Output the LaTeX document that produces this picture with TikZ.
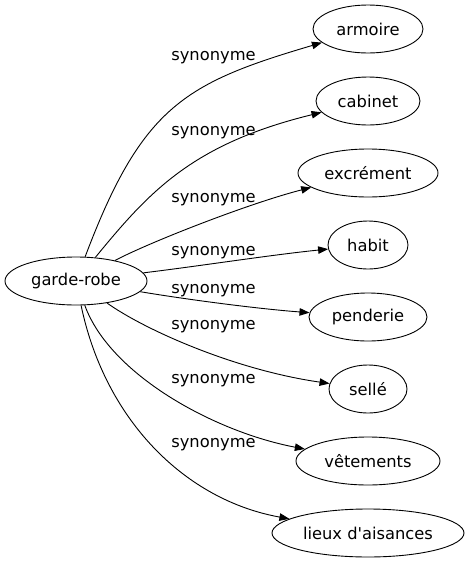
\documentclass[tikz,border=0pt]{standalone}
\usepackage{fontspec}
\setmainfont{DejaVu Sans}[Ligatures=TeXOff]
\usetikzlibrary{arrows.meta,shapes.geometric}
\tikzset{
  word/.style={draw, ellipse, line width=0.9pt, inner sep=0pt, minimum height=48pt, font=\fontsize{16.3}{19}\selectfont},
  rel/.style={line width=0.9pt, -{Triangle[length=10pt,width=7.5pt]}},
  lbl/.style={anchor=base, inner sep=0pt, font=\fontsize{16.3}{19}\selectfont}
}
\begin{document}
\begin{tikzpicture}[x=1pt,y=-1pt]
\useasboundingbox (0,0) rectangle (471,563);
\node[word, minimum width=142pt] (gr) at (76,281) {garde-robe};
\node[word, minimum width=110pt] (n1) at (368,29) {armoire};
\node[word, minimum width=104pt] (n2) at (368,101) {cabinet};
\node[word, minimum width=140pt] (n3) at (368,173) {excrément};
\node[word, minimum width=80pt] (n4) at (368,245) {habit};
\node[word, minimum width=118pt] (n5) at (368,317) {penderie};
\node[word, minimum width=78pt] (n6) at (368,389) {sellé};
\node[word, minimum width=144pt] (n7) at (368,461) {vêtements};
\node[word, minimum width=192pt] (n8) at (368,533) {lieux d'aisances};
\draw[rel] (gr) .. controls (142,106) and (185,83) .. (n1);
\draw[rel] (gr) .. controls (149,192) and (192,144) .. (n2);
\draw[rel] (gr) .. controls (150,242) and (250,203) .. (n3);
\draw[rel] (gr) .. controls (200,266) and (270,255) .. (n4);
\draw[rel] (gr) .. controls (190,300) and (260,309) .. (n5);
\draw[rel] (gr) .. controls (145,330) and (235,370) .. (n6);
\draw[rel] (gr) .. controls (110,375) and (215,432) .. (n7);
\draw[rel] (gr) .. controls (105,420) and (185,500) .. (n8);
\node[lbl] (l1) at (213.5,60) {synonyme};
\node[lbl] (l2) at (213.5,135) {synonyme};
\node[lbl] (l3) at (213.5,202) {synonyme};
\node[lbl] (l4) at (213.5,255) {synonyme};
\node[lbl] (l5) at (213.5,293) {synonyme};
\node[lbl] (l6) at (213.5,329) {synonyme};
\node[lbl] (l7) at (213.5,383) {synonyme};
\node[lbl] (l8) at (213.5,447) {synonyme};
\end{tikzpicture}
\end{document}
